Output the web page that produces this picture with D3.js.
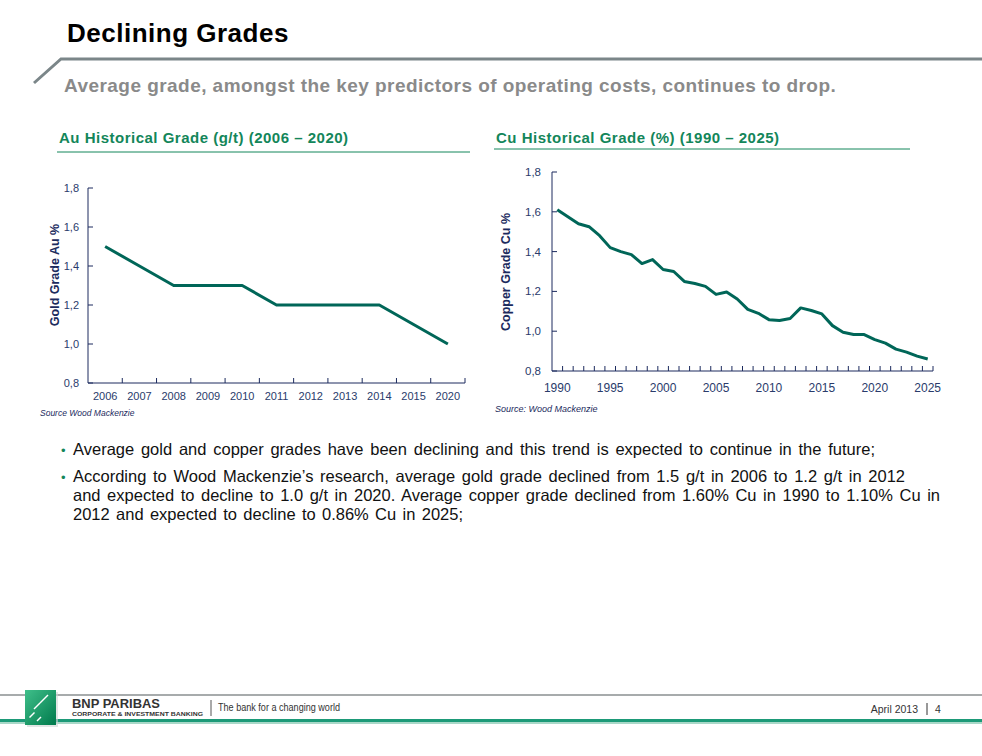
<!DOCTYPE html>
<html>
<head>
<meta charset="utf-8">
<script src="https://cdn.jsdelivr.net/npm/d3@7"></script>
<style>
  body { margin: 0; background: #fff; }
  svg { display: block; font-family: Arial, "Liberation Sans", sans-serif; }
</style>
</head>
<body>
<svg width="982" height="756"></svg>
<script>
// gold grade, g/t
var auYears = ["2006", "2007", "2008", "2009", "2010", "2011", "2012", "2013", "2014", "2015", "2020"];
var auGrade = [1.5, 1.4, 1.3, 1.3, 1.3, 1.2, 1.2, 1.2, 1.2, 1.1, 1.0];

// copper grade, % Cu, 1990..2025
var cuYears = d3.range(1990, 2026);
var cuGrade = [1.61, 1.575, 1.54, 1.525, 1.48, 1.42, 1.40, 1.385, 1.34, 1.36,
               1.31, 1.30, 1.25, 1.24, 1.225, 1.185, 1.197, 1.162, 1.11, 1.09,
               1.058, 1.054, 1.064, 1.117, 1.104, 1.087, 1.028, 0.995, 0.983, 0.983,
               0.958, 0.94, 0.91, 0.895, 0.875, 0.86];
var cuTickLabels = [1990, 1995, 2000, 2005, 2010, 2015, 2020, 2025];
var gradeTicks = [0.8, 1.0, 1.2, 1.4, 1.6, 1.8];

var navy = "#1c2b5e",
    tickText = "#2a3b6b",
    lineCol = "#006658",
    green = "#13865a";

var svg = d3.select("svg");
var fmt = function (d) { return d3.format(".1f")(d).replace(".", ","); };

// ---------- header ----------
svg.append("text").attr("x", 67).attr("y", 42)
    .style("font-size", "26px").style("font-weight", "bold").attr("fill", "#000")
    .attr("letter-spacing", "0.5")
    .text("Declining Grades");
svg.append("path").attr("d", "M34,83 L61,59 L982,59")
    .attr("fill", "none").attr("stroke", "#7b8689").attr("stroke-width", 3);
svg.append("text").attr("x", 64).attr("y", 92)
    .style("font-size", "19px").style("font-weight", "bold").attr("fill", "#8a8a8a")
    .attr("letter-spacing", "0.45")
    .text("Average grade, amongst the key predictors of operating costs, continues to drop.");

// ---------- chart titles ----------
function chartTitle(x, y, x2, ly, txt) {
    svg.append("text").attr("x", x).attr("y", y)
        .style("font-size", "15px").style("font-weight", "bold").attr("fill", green)
        .attr("letter-spacing", "0.5")
        .text(txt);
    svg.append("line").attr("x1", x - 2).attr("x2", x2).attr("y1", ly).attr("y2", ly)
        .attr("stroke", green).attr("stroke-width", 1);
}
chartTitle(59, 143, 470, 152, "Au Historical Grade (g/t) (2006 \u2013 2020)");
chartTitle(496, 143, 910, 149, "Cu Historical Grade (%) (1990 \u2013 2025)");

// ---------- Au chart ----------
var auX = d3.scaleBand().domain(auYears).range([88, 465]);
var auY = d3.scaleLinear().domain([0.8, 1.8]).range([383, 188]);
var gAu = svg.append("g");

gAu.append("line").attr("x1", 88).attr("x2", 88).attr("y1", auY(1.8)).attr("y2", auY(0.8))
    .attr("stroke", navy);
gAu.append("line").attr("x1", 88).attr("x2", 465).attr("y1", auY(0.8)).attr("y2", auY(0.8))
    .attr("stroke", navy);
gAu.selectAll(".yt").data(gradeTicks).enter().append("line")
    .attr("x1", 88).attr("x2", 93).attr("y1", auY).attr("y2", auY).attr("stroke", navy);
gAu.selectAll(".yl").data(gradeTicks).enter().append("text")
    .attr("x", 79).attr("y", function (d) { return auY(d) + 4; })
    .attr("text-anchor", "end").style("font-size", "11px").attr("fill", tickText)
    .text(fmt);
gAu.selectAll(".xt").data(auYears).enter().append("line")
    .attr("x1", function (d) { return auX(d) + auX.bandwidth(); })
    .attr("x2", function (d) { return auX(d) + auX.bandwidth(); })
    .attr("y1", auY(0.8)).attr("y2", auY(0.8) - 5).attr("stroke", navy);
gAu.selectAll(".xl").data(auYears).enter().append("text")
    .attr("x", function (d) { return auX(d) + auX.bandwidth() / 2; })
    .attr("y", 400).attr("text-anchor", "middle")
    .style("font-size", "11px").attr("fill", tickText).text(function (d) { return d; });
gAu.append("text").attr("transform", "translate(59,275) rotate(-90)")
    .attr("text-anchor", "middle").style("font-size", "12.5px").style("font-weight", "bold")
    .attr("fill", navy).text("Gold Grade Au %");
gAu.append("path")
    .datum(auYears.map(function (d, i) { return [d, auGrade[i]]; }))
    .attr("fill", "none").attr("stroke", lineCol).attr("stroke-width", 3)
    .attr("stroke-linejoin", "round")
    .attr("d", d3.line()
        .x(function (d) { return auX(d[0]) + auX.bandwidth() / 2; })
        .y(function (d) { return auY(d[1]); }));
gAu.append("text").attr("x", 40).attr("y", 416)
    .style("font-size", "8.5px").style("font-style", "italic").attr("fill", navy)
    .text("Source Wood Mackenzie");

// ---------- Cu chart ----------
var cuX = d3.scaleLinear().domain([1989.5, 2025.5]).range([552, 933]);
var cuY = d3.scaleLinear().domain([0.8, 1.8]).range([371, 172]);
var gCu = svg.append("g");

gCu.append("line").attr("x1", 552).attr("x2", 552).attr("y1", cuY(1.8)).attr("y2", cuY(0.8))
    .attr("stroke", navy);
gCu.append("line").attr("x1", 552).attr("x2", 933).attr("y1", cuY(0.8)).attr("y2", cuY(0.8))
    .attr("stroke", navy);
gCu.selectAll(".yt").data(gradeTicks).enter().append("line")
    .attr("x1", 552).attr("x2", 557).attr("y1", cuY).attr("y2", cuY).attr("stroke", navy);
gCu.selectAll(".yl").data(gradeTicks).enter().append("text")
    .attr("x", 541).attr("y", function (d) { return cuY(d) + 4; })
    .attr("text-anchor", "end").style("font-size", "11.5px").attr("fill", tickText)
    .text(fmt);
gCu.selectAll(".xt").data(cuYears).enter().append("line")
    .attr("x1", function (d) { return cuX(d + 0.5); })
    .attr("x2", function (d) { return cuX(d + 0.5); })
    .attr("y1", cuY(0.8)).attr("y2", cuY(0.8) - 5).attr("stroke", navy);
gCu.selectAll(".xl").data(cuTickLabels).enter().append("text")
    .attr("x", cuX).attr("y", 392).attr("text-anchor", "middle")
    .style("font-size", "12px").attr("fill", tickText).text(function (d) { return d; });
gCu.append("text").attr("transform", "translate(510,272) rotate(-90)")
    .attr("text-anchor", "middle").style("font-size", "12.5px").style("font-weight", "bold")
    .attr("fill", navy).text("Copper Grade Cu %");
gCu.append("path")
    .datum(cuYears.map(function (d, i) { return [d, cuGrade[i]]; }))
    .attr("fill", "none").attr("stroke", lineCol).attr("stroke-width", 3)
    .attr("stroke-linejoin", "round")
    .attr("d", d3.line()
        .x(function (d) { return cuX(d[0]); })
        .y(function (d) { return cuY(d[1]); }));
gCu.append("text").attr("x", 495).attr("y", 412)
    .style("font-size", "9px").style("font-style", "italic").attr("fill", navy)
    .text("Source: Wood Mackenzie");

// ---------- bullets ----------
// right edge of each line in the slide; word gaps are widened to reach it
var bulletLines = [
    {y: 455, bullet: true, end: 875, t: "Average gold and copper grades have been declining and this trend is expected to continue in the future;"},
    {y: 482, bullet: true, end: 905, t: "According to Wood Mackenzie\u2019s research, average gold grade declined from 1.5 g/t in 2006 to 1.2 g/t in 2012"},
    {y: 501, bullet: false, end: 940, t: "and expected to decline to 1.0 g/t in 2020. Average copper grade declined from 1.60% Cu in 1990 to 1.10% Cu in"},
    {y: 520, bullet: false, end: 463, t: "2012 and expected to decline to 0.86% Cu in 2025;"}
];
bulletLines.forEach(function (b) {
    if (b.bullet) {
        svg.append("text").attr("x", 61).attr("y", b.y).style("font-size", "13px")
            .attr("fill", green).text("\u2022");
    }
    var t = svg.append("text").attr("x", 73).attr("y", b.y)
        .style("font-size", "16.5px").attr("fill", "#111").text(b.t);
    var nat = t.node().getComputedTextLength();
    var gaps = b.t.split(" ").length - 1;
    var ws = (b.end - 73 - nat) / gaps;
    if (ws < 0) {
        t.attr("textLength", b.end - 73).attr("lengthAdjust", "spacingAndGlyphs");
    } else {
        t.attr("word-spacing", ws);
    }
});

// ---------- footer ----------
svg.append("line").attr("x1", 0).attr("x2", 982).attr("y1", 695).attr("y2", 695)
    .attr("stroke", "#8a8f90").attr("stroke-width", 1.5);
svg.append("rect").attr("x", 0).attr("y", 719).attr("width", 982).attr("height", 3)
    .attr("fill", "#1d9a78");
svg.append("rect").attr("x", 0).attr("y", 722).attr("width", 982).attr("height", 2)
    .attr("fill", "#a9d8c8");
var grad = svg.append("defs").append("linearGradient").attr("id", "lg")
    .attr("x1", 0).attr("y1", 0).attr("x2", 1).attr("y2", 1);
grad.append("stop").attr("offset", "0").attr("stop-color", "#3fbf8a");
grad.append("stop").attr("offset", "1").attr("stop-color", "#007a4c");
svg.append("rect").attr("x", 27).attr("y", 692).attr("width", 31).attr("height", 35)
    .attr("fill", "#cfd5d3").attr("opacity", 0.6);
svg.append("rect").attr("x", 25).attr("y", 690).attr("width", 31).attr("height", 35)
    .attr("fill", "url(#lg)");
[[44, 699, 4], [37, 706, 3], [32, 715, 2.5], [39, 719, 2]].forEach(function (s) {
    svg.append("path")
        .attr("d", "M" + (s[0] - s[2]) + "," + (s[1] + s[2]) + " L" + (s[0] + s[2]) + "," + (s[1] - s[2]))
        .attr("stroke", "#fff").attr("stroke-width", 1.5);
});
svg.append("text").attr("x", 72).attr("y", 708).style("font-size", "13px")
    .style("font-weight", "bold").attr("fill", "#333")
    .attr("textLength", 88).attr("lengthAdjust", "spacingAndGlyphs").text("BNP PARIBAS");
svg.append("text").attr("x", 72).attr("y", 715.5).style("font-size", "5.5px")
    .style("font-weight", "bold").attr("fill", "#333")
    .attr("textLength", 131).attr("lengthAdjust", "spacingAndGlyphs")
    .text("CORPORATE & INVESTMENT BANKING");
svg.append("line").attr("x1", 211).attr("x2", 211).attr("y1", 700).attr("y2", 716)
    .attr("stroke", "#555");
svg.append("text").attr("x", 218).attr("y", 711).style("font-size", "10px")
    .attr("fill", "#333").attr("textLength", 122).attr("lengthAdjust", "spacingAndGlyphs")
    .text("The bank for a changing world");
svg.append("text").attr("x", 918).attr("y", 713).attr("text-anchor", "end")
    .style("font-size", "10.5px").attr("fill", "#333").text("April 2013");
svg.append("line").attr("x1", 927).attr("x2", 927).attr("y1", 703).attr("y2", 715)
    .attr("stroke", "#333");
svg.append("text").attr("x", 935).attr("y", 713).style("font-size", "10.5px")
    .attr("fill", "#333").text("4");
</script>
</body>
</html>
